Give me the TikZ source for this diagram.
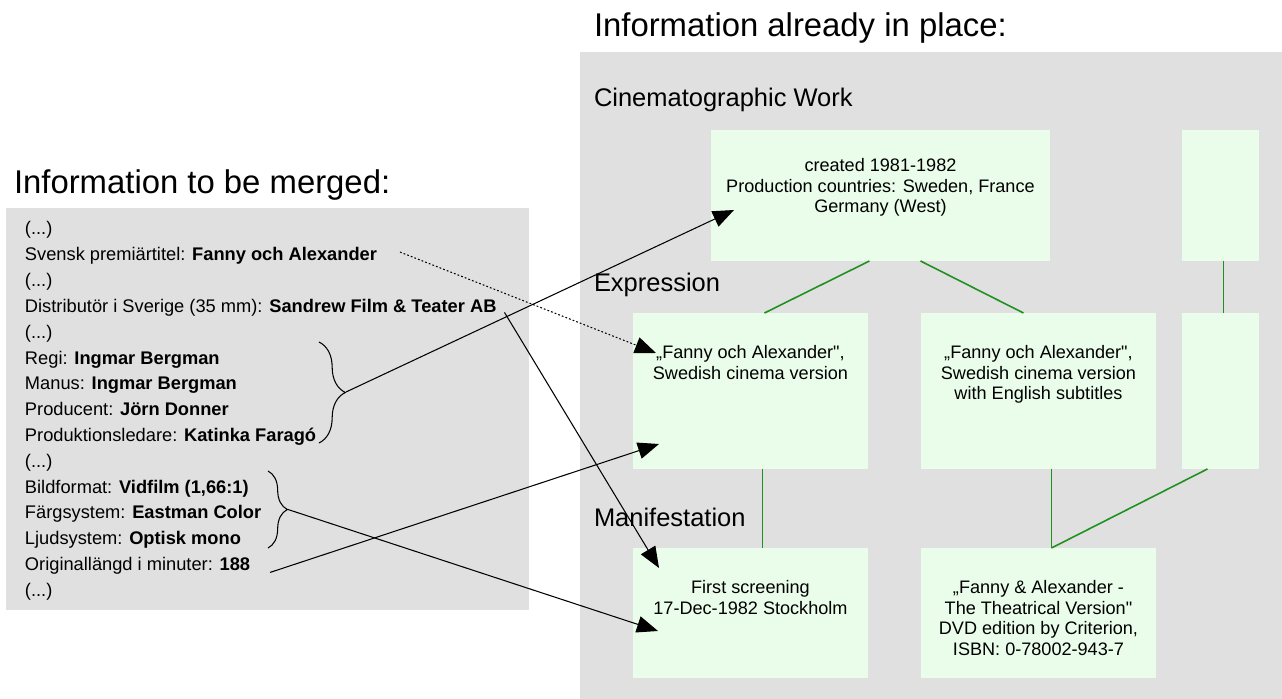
\documentclass[tikz,border=0pt]{standalone}
\usepackage{fontspec}
\setmainfont{Liberation Sans}
\usetikzlibrary{arrows.meta,decorations.pathreplacing}
\definecolor{panelgray}{RGB}{224,224,224}
\definecolor{boxgreen}{RGB}{234,253,234}
\definecolor{linegreen}{RGB}{30,145,30}

\begin{document}
\begin{tikzpicture}[x=0.02cm, y=-0.02cm,
  every node/.style={inner sep=0pt, outer sep=0pt},
  title/.style={anchor=base west, font=\fontsize{18.7}{22}\selectfont},
  level/.style={anchor=base west, font=\fontsize{14.5}{17}\selectfont},
  entry/.style={anchor=base west, font=\fontsize{10.4}{12}\selectfont},
  box/.style={anchor=north west, fill=boxgreen},
  boxtext/.style={anchor=north, align=center, font=\fontsize{10.3}{11.9}\selectfont},
  link/.style={draw=linegreen, line width=0.9pt},
  merge/.style={draw=black, line width=0.6pt, -{Triangle[length=12pt,width=9.5pt]}},
  curly/.style={draw=black, line width=0.6pt, decorate, decoration={brace, amplitude=#1}}]
\useasboundingbox (0,0) rectangle (1282,699);

\fill[panelgray] (6,208) rectangle (529,610);
\fill[panelgray] (580,52) rectangle (1282,699);

\node[title] (mergetitle) at (14,194) {Information to be merged:};
\node[title] (placetitle) at (594,37) {Information already in place:};

\node[level] (worklevel) at (594,107) {Cinematographic Work};
\node[level] (exprlevel) at (594,292) {Expression};
\node[level] (maniflevel) at (594,526) {Manifestation};

\node[entry] (dots1) at (25,235) {(...)};
\node[entry] (titel) at (25,260.8) {Svensk premiärtitel: \textbf{Fanny och Alexander}};
\node[entry] (dots2) at (25,286.6) {(...)};
\node[entry] (distr) at (25,312.4) {Distributör i Sverige (35 mm): \textbf{Sandrew Film \& Teater AB}};
\node[entry] (dots3) at (25,338.2) {(...)};
\node[entry] (regi) at (25,364) {Regi: \textbf{Ingmar Bergman}};
\node[entry] (manus) at (25,389.8) {Manus: \textbf{Ingmar Bergman}};
\node[entry] (prod) at (25,415.6) {Producent: \textbf{Jörn Donner}};
\node[entry] (ledare) at (25,441.4) {Produktionsledare: \textbf{Katinka Faragó}};
\node[entry] (dots4) at (25,467.2) {(...)};
\node[entry] (bild) at (25,493) {Bildformat: \textbf{Vidfilm (1,66:1)}};
\node[entry] (farg) at (25,518.8) {Färgsystem: \textbf{Eastman Color}};
\node[entry] (ljud) at (25,544.6) {Ljudsystem: \textbf{Optisk mono}};
\node[entry] (langd) at (25,570.4) {Originallängd i minuter: \textbf{188}};
\node[entry] (dots5) at (25,596.2) {(...)};

\node[box, minimum width=6.78cm, minimum height=2.62cm] (work) at (711,130) {};
\node[box, minimum width=1.54cm, minimum height=2.62cm] (workcol) at (1182,130) {};
\node[box, minimum width=4.7cm, minimum height=3.12cm] (expr1) at (633,313) {};
\node[box, minimum width=4.7cm, minimum height=3.12cm] (expr2) at (921,313) {};
\node[box, minimum width=1.54cm, minimum height=3.12cm] (exprcol) at (1182,313) {};
\node[box, minimum width=4.7cm, minimum height=2.6cm] (manif1) at (633,548) {};
\node[box, minimum width=4.7cm, minimum height=2.6cm] (manif2) at (921,548) {};

\node[boxtext] (worktext) at ([shift={(0,28)}]work.north) {created 1981-1982\\Production countries: Sweden, France\\Germany (West)};
\node[boxtext] (expr1text) at ([shift={(0,32)}]expr1.north) {„Fanny och Alexander\textquotedbl,\\Swedish cinema version};
\node[boxtext] (expr2text) at ([shift={(0,32)}]expr2.north) {„Fanny och Alexander\textquotedbl,\\Swedish cinema version\\with English subtitles};
\node[boxtext] (manif1text) at ([shift={(0,32)}]manif1.north) {First screening\\17-Dec-1982 Stockholm};
\node[boxtext] (manif2text) at ([shift={(0,32)}]manif2.north) {„Fanny \& Alexander -\\The Theatrical Version\textquotedbl\\DVD edition by Criterion,\\ISBN: 0-78002-943-7};

\draw[link] ([shift={(-11,0)}]work.south) -- ([shift={(14,0)}]expr1.north);
\draw[link] ([shift={(40,0)}]work.south) -- ([shift={(-15,0)}]expr2.north);
\draw[link] ([shift={(3,0)}]workcol.south) -- ([shift={(3,0)}]exprcol.north);
\draw[link] ([shift={(12,0)}]expr1.south) -- ([shift={(12,0)}]manif1.north);
\draw[link] ([shift={(13,0)}]expr2.south) -- ([shift={(13,0)}]manif2.north);
\draw[link] ([shift={(-13,0)}]exprcol.south) -- ([shift={(13,0)}]manif2.north);

\draw[curly=15pt] (319,342) -- (319,443);
\coordinate (cast) at (346,392);
\draw[curly=11pt] (268,471) -- (268,548);
\coordinate (format) at (288,509.5);

\draw[merge] (cast) -- ([shift={(23,80)}]work.north west);
\draw[merge, dash pattern=on 1pt off 1.2pt] ([shift={(23,-4)}]titel.east) -- ([shift={(23,40)}]expr1.north west);
\draw[merge] ([shift={(8,0)}]distr.base east) -- ([shift={(26,20)}]manif1.north west);
\draw[merge] ([shift={(20,2)}]langd.base east) -- ([shift={(26,131)}]expr1.north west);
\draw[merge] (format) -- ([shift={(25,83)}]manif1.north west);
\end{tikzpicture}
\end{document}
